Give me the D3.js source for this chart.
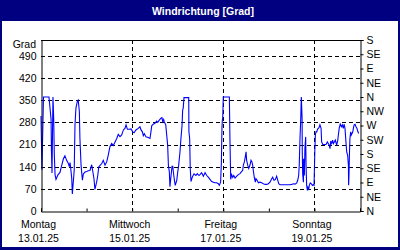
<!DOCTYPE html>
<html>
<head>
<meta charset="utf-8">
<script src="https://cdnjs.cloudflare.com/ajax/libs/d3/7.8.5/d3.min.js"></script>
<style>
  body { margin: 0; background: #fff; }
  text { font-family: "Liberation Sans", Arial, sans-serif; }
</style>
</head>
<body>
<div id="chart"></div>
<script>
// hours since Montag 13.01.25 00:00 and wind direction in degrees
var hours = [
  0, 0.5, 1.3, 4.2, 5.3, 5.5, 5.8, 6.3, 6.7, 7, 7.4, 7.9, 9, 10, 10.9, 11.8, 12.6, 13.5,
  14.4, 14.9, 15.3, 15.6, 16.2, 16.5, 17, 17.5, 17.9, 18.4, 19.1, 19.6, 20.2, 20.5, 21.1,
  21.8, 22.3, 23.2, 24.1, 24.9, 25.8, 26.7, 27.2, 27.9, 28.4, 29.3, 29.9, 30.4, 31.1, 32,
  32.8, 33.7, 34.6, 35.4, 36.3, 37.2, 38.1, 39, 39.9, 40.7, 41.6, 42.5, 43.4, 44.2, 44.8,
  45.5, 46.5, 47.4, 48.3, 49, 50, 51.2, 52.1, 52.7, 53.4, 53.9, 54.4, 55.3, 56.5, 57.4,
  57.9, 58.3, 59.1, 60, 60.9, 61.5, 62.3, 63.2, 63.7, 64.1, 64.6, 64.9, 65.7, 66.2, 66.7,
  67.1, 67.6, 67.9, 68.5, 69, 69.4, 69.7, 70.2, 70.7, 71.5, 72, 72.5, 73.2, 73.7, 74.3,
  74.6, 74.9, 75.3, 77.8, 77.9, 78.3, 78.6, 79, 79.4, 79.9, 80.6, 81.6, 82.3, 83.2, 83.7,
  84.6, 85.5, 86.4, 87.3, 88.1, 89, 89.9, 90.8, 91.6, 92.5, 93.4, 93.9, 94.6, 95, 95.3,
  95.5, 95.7, 96, 99.2, 99.5, 99.7, 99.9, 100.4, 101, 101.5, 102.2, 103.1, 103.9, 104.8,
  105.7, 106.2, 106.6, 107.1, 107.6, 108, 108.3, 108.9, 109.4, 110.1, 110.6, 111.1, 111.5,
  111.8, 112.3, 112.9, 113.2, 113.8, 114.5, 115.3, 116.2, 117.1, 118, 118.9, 119.7, 120.6,
  121.5, 122, 122.7, 123.4, 124.1, 124.7, 125.2, 125.9, 127.6, 129.4, 131.1, 132, 132.9,
  133.8, 134.7, 135.2, 135.7, 136, 136.4, 136.8, 137.1, 137.5, 137.6, 137.8, 138.2, 138.3,
  138.7, 139, 139.4, 139.6, 139.9, 140.3, 140.6, 141, 141.3, 141.8, 142.4, 142.9, 143.4,
  143.8, 144.2, 144.5, 144.8, 145.2, 145.7, 146.4, 146.9, 147.5, 147.8, 148.4, 149.2, 150.1,
  150.8, 151.3, 151.8, 152.2, 152.6, 153.1, 153.6, 154, 154.5, 155, 155.7, 156.3, 156.6,
  157.1, 157.6, 158.2, 158.7, 159.2, 159.6, 160.1, 160.6, 161, 161.5, 161.9, 162, 162.2,
  162.4, 162.7, 163.1, 163.4, 163.8, 164.2, 164.5, 164.9, 165.4, 165.9, 166.4, 166.9, 167.3
];
var degrees = [
  300, 130, 360, 360, 290, 190, 120, 360, 290, 180, 115, 100, 115, 122, 144, 165, 174, 160,
  150, 140, 153, 138, 102, 54, 91, 130, 272, 325, 345, 350, 314, 229, 144,
  97, 117, 123, 125, 127, 128, 146, 128, 102, 68, 91, 112, 139, 144, 150,
  160, 145, 155, 176, 203, 213, 207, 218, 229, 242, 235, 240, 256, 261, 272,
  258, 258, 259, 250, 247, 256, 261, 266, 256, 250, 238, 244, 234, 232, 229,
  250, 269, 274, 277, 284, 280, 287, 293, 295, 282, 289, 282, 272, 240, 208,
  144, 123, 77, 112, 141, 141, 123, 100, 81, 97, 123, 144, 187, 229, 272,
  319, 325, 358, 358, 250, 229, 134, 93, 102, 110, 117, 112, 118, 112, 115,
  121, 110, 121, 112, 107, 100, 93, 91, 89, 89, 86, 81, 91, 155, 261,
  287, 293, 360, 360, 229, 165, 100, 115, 106, 112, 104, 110, 115, 118,
  125, 128, 146, 155, 171, 187, 160, 144, 134, 146, 160, 155, 144,
  128, 107, 91, 102, 97, 89, 91, 89, 86, 84, 84, 86, 91,
  102, 107, 97, 99, 110, 97, 86, 83, 83, 83, 83, 84, 86,
  85, 89, 97, 112, 144, 229, 293, 360, 293, 187, 118, 91, 165,
  112, 200, 234, 144, 81, 65, 75, 70, 81, 89, 86, 81, 83,
  81, 187, 240, 250, 250, 259, 263, 272, 261, 218, 210, 210, 210,
  218, 213, 208, 197, 221, 213, 224, 213, 218, 224, 208, 224, 240,
  263, 274, 266, 272, 261, 274, 261, 218, 187, 176, 144, 81, 112,
  171, 229, 250, 240, 245, 250, 261, 272, 274, 266, 261, 250, 245
];

var gradTicks = [0, 70, 140, 210, 280, 350, 420, 490];
var compassTicks = [0, 45, 90, 135, 180, 225, 270, 315, 360, 405, 450, 495, 540];
var compassLabels = ["N", "NE", "E", "SE", "S", "SW", "W", "NW", "N", "NE", "E", "SE", "S"];
var dayNames = ["Montag", "Mittwoch", "Freitag", "Sonntag"];
var dayDates = ["13.01.25", "15.01.25", "17.01.25", "19.01.25"];

var W = 400, H = 250,
    plot = {left: 41, right: 360, top: 40, bottom: 211};

var start = new Date(2025, 0, 13),
    end = new Date(2025, 0, 20);

function at(h) { return new Date(start.getTime() + h * 3600000); }

var x = d3.scaleTime().domain([start, end]).range([plot.left, plot.right]),
    y = d3.scaleLinear().domain([0, 540]).range([plot.bottom, plot.top]);

var svg = d3.select("#chart").append("svg")
    .attr("width", W)
    .attr("height", H)
    .style("display", "block");

// frame + title bar
svg.append("rect").attr("width", W).attr("height", H).attr("fill", "#000080");
svg.append("rect")
    .attr("x", 2).attr("y", 21)
    .attr("width", W - 4).attr("height", H - 24)
    .attr("fill", "#fff");
svg.append("text")
    .attr("x", 203).attr("y", 14.5)
    .attr("text-anchor", "middle")
    .attr("fill", "#fff")
    .attr("font-weight", "bold")
    .attr("font-size", "10.5px")
    .text("Windrichtung [Grad]");

// grid
var dayTicks = d3.range(0, 8).map(function(d) { return at(d * 24); });
var labelDays = [0, 2, 4, 6].map(function(d) { return at(d * 24); });

svg.append("g").selectAll("line")
  .data(gradTicks.slice(1))
  .join("line")
    .attr("x1", plot.left).attr("x2", plot.right)
    .attr("y1", function(d) { return Math.round(y(d)) + 0.5; })
    .attr("y2", function(d) { return Math.round(y(d)) + 0.5; })
    .attr("stroke", "#000")
    .attr("stroke-dasharray", "4,3");

svg.append("g").selectAll("line")
  .data(labelDays.slice(1))
  .join("line")
    .attr("x1", function(d) { return Math.round(x(d)) + 0.5; })
    .attr("x2", function(d) { return Math.round(x(d)) + 0.5; })
    .attr("y1", plot.top).attr("y2", plot.bottom)
    .attr("stroke", "#000")
    .attr("stroke-dasharray", "4,3");

// wind line
var line = d3.line()
    .x(function(d, i) { return x(at(hours[i])); })
    .y(function(d) { return y(d); });

svg.append("path")
    .datum(degrees)
    .attr("d", line)
    .attr("fill", "none")
    .attr("stroke", "#0000ff")
    .attr("stroke-width", 1.1);

// axes
var font = "10.5px";

var bottomAxis = svg.append("g")
    .attr("transform", "translate(0," + (plot.bottom + 0.5) + ")")
    .call(d3.axisBottom(x).tickValues(dayTicks).tickSize(-3).tickFormat(""));

var leftAxis = svg.append("g")
    .attr("transform", "translate(" + (plot.left + 0.5) + ",0)")
    .call(d3.axisLeft(y).tickValues(gradTicks).tickSize(0).tickPadding(5));

var rightAxis = svg.append("g")
    .attr("transform", "translate(" + (plot.right + 0.5) + ",0)")
    .call(d3.axisRight(y).tickValues(compassTicks).tickSize(3).tickPadding(3)
      .tickFormat(function(d, i) { return compassLabels[i]; }));

[bottomAxis, leftAxis, rightAxis].forEach(function(g) {
  g.selectAll(".domain").attr("stroke", "#000");
  g.selectAll(".tick line").attr("stroke", "#000");
  g.selectAll("text")
    .attr("fill", "#000")
    .attr("font-size", font)
    .attr("font-family", "Liberation Sans, Arial, sans-serif");
});

svg.append("line")
    .attr("x1", plot.left).attr("x2", plot.right + 1)
    .attr("y1", plot.top + 0.5).attr("y2", plot.top + 0.5)
    .attr("stroke", "#000");

svg.append("text")
    .attr("x", 36).attr("y", 48)
    .attr("text-anchor", "end")
    .attr("font-size", font)
    .text("Grad");

// day labels under the axis, sitting a touch left of their tick
var lab = svg.append("g").selectAll("g")
  .data(labelDays)
  .join("g")
    .attr("transform", function(d) { return "translate(" + (x(d) - 2.5) + ",0)"; });

lab.append("text")
    .attr("y", 227.5)
    .attr("text-anchor", "middle")
    .attr("font-size", font)
    .text(function(d, i) { return dayNames[i]; });

lab.append("text")
    .attr("y", 242)
    .attr("text-anchor", "middle")
    .attr("font-size", font)
    .text(function(d, i) { return dayDates[i]; });
</script>
</body>
</html>
